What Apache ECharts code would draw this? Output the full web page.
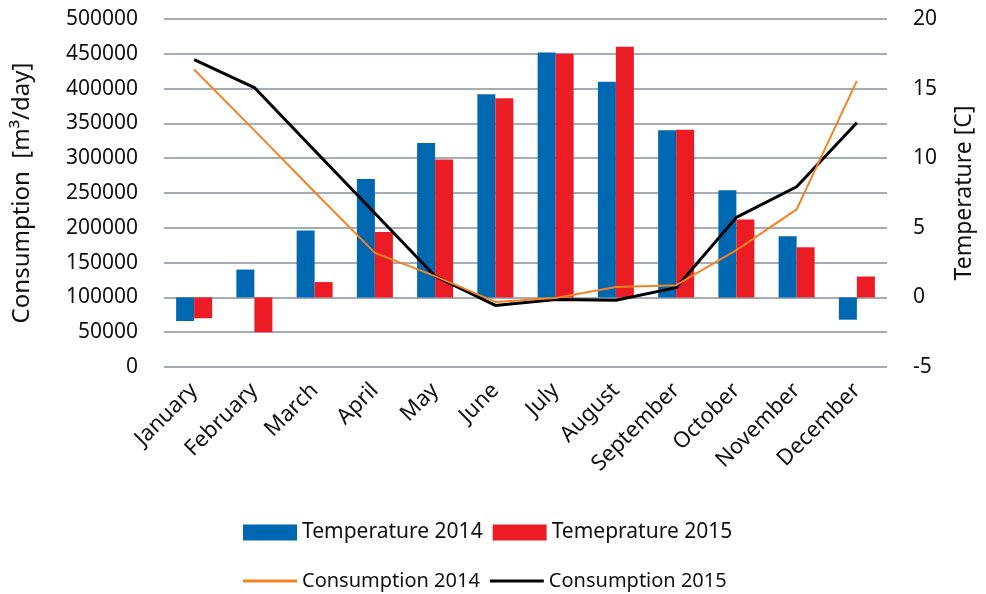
<!DOCTYPE html>
<html>
<head>
<meta charset="utf-8">
<script src="https://cdn.jsdelivr.net/npm/echarts@6/dist/echarts.min.js"></script>
<style>
  html, body { margin: 0; padding: 0; background: #fff; }
  #chart { width: 986px; height: 594px; }
</style>
</head>
<body>
<div id="chart"></div>
<script>
// Monthly categories
const months = ['January', 'February', 'March', 'April', 'May', 'June', 'July',
  'August', 'September', 'October', 'November', 'December'];

// Mean monthly temperature [C] (right axis, bars)
const temp2014 = [-1.7, 2.0, 4.8, 8.5, 11.1, 14.6, 17.6, 15.5, 12.0, 7.7, 4.4, -1.6];
const temp2015 = [-1.5, -2.5, 1.1, 4.7, 9.9, 14.3, 17.5, 18.0, 12.05, 5.6, 3.6, 1.5];

// Water consumption [m3/day] (left axis, lines)
const cons2014 = [427500, 340000, 251500, 164000, 130500, 93500, 99000, 115000, 117500, 168000, 226500, 411000];
const cons2015 = [441500, 401500, 311000, 221000, 130500, 88500, 97000, 96000, 114000, 215000, 259000, 351000];

const FONT = 'Noto Sans';
const TXT = '#111';

const chart = echarts.init(document.getElementById('chart'), null, { renderer: 'canvas' });

chart.setOption({
  animation: false,
  backgroundColor: '#fff',
  textStyle: { fontFamily: FONT, color: TXT },
  grid: { left: 164, right: 99, top: 19, bottom: 227 },
  legend: [
    {
      data: ['Temperature 2014', 'Temeprature 2015'],
      left: 238, top: 517,
      itemWidth: 54, itemHeight: 16, itemGap: 10,
      icon: 'rect',
      textStyle: { fontFamily: FONT, fontSize: 21, color: TXT }
    },
    {
      data: ['Consumption 2014', 'Consumption 2015'],
      left: 238, top: 566,
      itemWidth: 54, itemHeight: 3, itemGap: 10,
      icon: 'rect',
      textStyle: { fontFamily: FONT, fontSize: 20, color: TXT }
    }
  ],
  xAxis: {
    type: 'category',
    data: months,
    axisLine: { show: false },
    axisTick: { show: false },
    axisLabel: {
      rotate: 45, interval: 0, margin: 20,
      fontFamily: FONT, fontSize: 22, color: TXT
    }
  },
  yAxis: [
    {
      type: 'value',
      min: 0, max: 500000, interval: 50000,
      name: 'Consumption  [m³/day]',
      nameLocation: 'middle', nameGap: 130,
      nameTextStyle: { fontFamily: FONT, fontSize: 24, color: TXT },
      axisLine: { show: false },
      axisTick: { show: false },
      axisLabel: {
        margin: 26, fontFamily: FONT, fontSize: 21, color: TXT,
        formatter: v => String(v)
      },
      splitLine: { lineStyle: { color: '#a3adb3', width: 2 } }
    },
    {
      type: 'value',
      min: -5, max: 20, interval: 5,
      name: 'Temperature [C]',
      nameLocation: 'middle', nameGap: 66,
      nameRotate: 90,
      nameTextStyle: { fontFamily: FONT, fontSize: 23, color: TXT },
      axisLine: { show: false },
      axisTick: { show: false },
      axisLabel: { margin: 26, fontFamily: FONT, fontSize: 21, color: TXT },
      splitLine: { show: false }
    }
  ],
  series: [
    {
      name: 'Temperature 2014', type: 'bar', yAxisIndex: 1,
      data: temp2014, barWidth: 18, barGap: '0%',
      itemStyle: { color: '#0067b1' }
    },
    {
      name: 'Temeprature 2015', type: 'bar', yAxisIndex: 1,
      data: temp2015, barWidth: 18, barGap: '0%',
      itemStyle: { color: '#ec1c24' }
    },
    {
      name: 'Consumption 2014', type: 'line', yAxisIndex: 0,
      data: cons2014, symbol: 'none',
      lineStyle: { color: '#f58220', width: 2 },
      itemStyle: { color: '#f58220' },
      z: 5
    },
    {
      name: 'Consumption 2015', type: 'line', yAxisIndex: 0,
      data: cons2015, symbol: 'none',
      lineStyle: { color: '#000', width: 3 },
      itemStyle: { color: '#000' },
      z: 4
    }
  ]
});
</script>
</body>
</html>
